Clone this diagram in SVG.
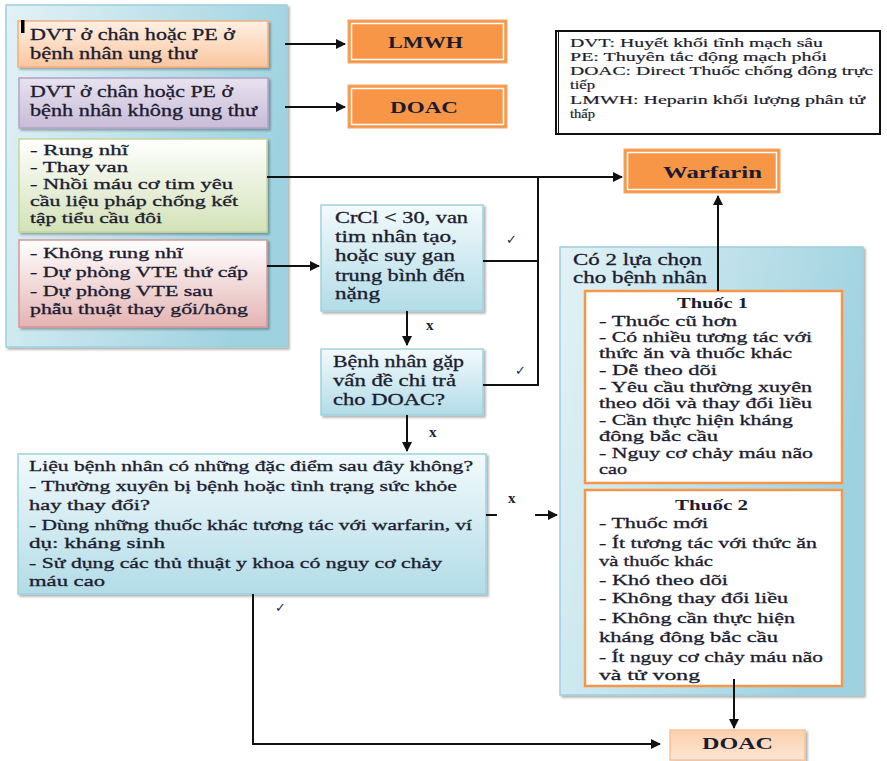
<svg xmlns="http://www.w3.org/2000/svg" width="887" height="761" viewBox="0 0 887 761">
  <style>
    .t { font-family: "Liberation Serif", "DejaVu Serif", serif; font-size: 16.5px; fill: #1c1c30; stroke: #1c1c30; stroke-width: 0.3; }
    .m { font-size: 15px; }
    .s { font-size: 15px; }
    .lg { font-size: 13px; stroke-width: 0.2; }
    .b { font-family: "Liberation Serif", "DejaVu Serif", serif; font-size: 17px; font-weight: bold; fill: #1c1c30; }
    .bs { font-size: 15px; }
    .mk { font-family: "DejaVu Sans", sans-serif; font-size: 13px; font-weight: bold; fill: #2a2a50; }
    .x { font-family: "Liberation Serif", serif; font-size: 15px; font-weight: bold; fill: #1c1c30; }
    .ln { fill: none; stroke: #111; stroke-width: 2; }
    .orange { fill: #F79646; stroke: #F9A66A; stroke-width: 1; }
    .inner { fill: none; stroke: #FFFFFF; stroke-width: 1.5; }
  </style>
  <defs>
    <linearGradient id="gPanel" x1="0" y1="0" x2="1" y2="0.3">
      <stop offset="0" stop-color="#E2F2F6"/>
      <stop offset="1" stop-color="#9FD2E0"/>
    </linearGradient>
    <linearGradient id="gPeach" x1="0" y1="0" x2="0" y2="1">
      <stop offset="0" stop-color="#FEF0E4"/>
      <stop offset="1" stop-color="#FAC79F"/>
    </linearGradient>
    <linearGradient id="gLav" x1="0" y1="0" x2="0" y2="1">
      <stop offset="0" stop-color="#E8E2EF"/>
      <stop offset="1" stop-color="#C8BCD8"/>
    </linearGradient>
    <linearGradient id="gGreen" x1="0" y1="0" x2="0" y2="1">
      <stop offset="0" stop-color="#FFFFFF"/>
      <stop offset="1" stop-color="#D3E2B8"/>
    </linearGradient>
    <linearGradient id="gPink" x1="0" y1="0" x2="0" y2="1">
      <stop offset="0" stop-color="#FFFFFF"/>
      <stop offset="1" stop-color="#E4B4B3"/>
    </linearGradient>
    <linearGradient id="gBlue" x1="0" y1="0" x2="0" y2="1">
      <stop offset="0" stop-color="#F2FAFC"/>
      <stop offset="1" stop-color="#B2DCE7"/>
    </linearGradient>
    <linearGradient id="gLight" x1="0" y1="0" x2="0" y2="1">
      <stop offset="0" stop-color="#FBD0AC"/>
      <stop offset="1" stop-color="#FDE6D4"/>
    </linearGradient>
    <filter id="sh" x="-5%" y="-5%" width="115%" height="115%">
      <feDropShadow dx="2" dy="2" stdDeviation="1.2" flood-color="#000" flood-opacity="0.3"/>
    </filter>
    <marker id="ah" viewBox="0 0 10 10" refX="9" refY="5" markerWidth="5" markerHeight="5" orient="auto" markerUnits="strokeWidth">
      <path d="M0,0 L10,5 L0,10 z" fill="#111"/>
    </marker>
  </defs>

  <rect width="887" height="761" fill="#FFFFFF"/>

  <!-- left indications panel -->
  <g id="panel-left">
    <rect x="6" y="5" width="281" height="342" fill="url(#gPanel)" stroke="#9CCFDD" stroke-width="1.5" filter="url(#sh)"/>
  </g>

  <g id="cancer">
    <rect x="18" y="21" width="250" height="46" fill="url(#gPeach)" stroke="#F2AE7C" stroke-width="1.5" filter="url(#sh)"/>
    <rect x="21" y="20" width="3.5" height="13" fill="#000"/>
    <text class="t" x="30" y="40" textLength="205" lengthAdjust="spacingAndGlyphs">DVT ở chân hoặc PE ở</text>
    <text class="t" x="30" y="59" textLength="167" lengthAdjust="spacingAndGlyphs">bệnh nhân ung thư</text>
  </g>

  <g id="no-cancer">
    <rect x="19" y="78" width="249" height="50" fill="url(#gLav)" stroke="#B3A2C7" stroke-width="1.5" filter="url(#sh)"/>
    <text class="t" x="30" y="97" textLength="203" lengthAdjust="spacingAndGlyphs">DVT ở chân hoặc PE ở</text>
    <text class="t" x="30" y="116" textLength="227" lengthAdjust="spacingAndGlyphs">bệnh nhân không ung thư</text>
  </g>

  <g id="af-valve">
    <rect x="19" y="139" width="248" height="93" fill="url(#gGreen)" stroke="#C3D69B" stroke-width="1.5" filter="url(#sh)"/>
    <text class="t m" x="30" y="155" textLength="98" lengthAdjust="spacingAndGlyphs">- Rung nhĩ</text>
    <text class="t m" x="30" y="172" textLength="98" lengthAdjust="spacingAndGlyphs">- Thay van</text>
    <text class="t m" x="30" y="189" textLength="203" lengthAdjust="spacingAndGlyphs">- Nhồi máu cơ tim yêu</text>
    <text class="t m" x="30" y="206" textLength="208" lengthAdjust="spacingAndGlyphs">cầu liệu pháp chống kết</text>
    <text class="t m" x="30" y="223" textLength="132" lengthAdjust="spacingAndGlyphs">tập tiểu cầu đôi</text>
  </g>

  <g id="no-af">
    <rect x="19" y="240" width="248" height="87" fill="url(#gPink)" stroke="#D99694" stroke-width="1.5" filter="url(#sh)"/>
    <text class="t m" x="30" y="258" textLength="153" lengthAdjust="spacingAndGlyphs">- Không rung nhĩ</text>
    <text class="t m" x="30" y="277" textLength="218" lengthAdjust="spacingAndGlyphs">- Dự phòng VTE thứ cấp</text>
    <text class="t m" x="30" y="296" textLength="183" lengthAdjust="spacingAndGlyphs">- Dự phòng VTE sau</text>
    <text class="t m" x="30" y="314" textLength="218" lengthAdjust="spacingAndGlyphs">phẫu thuật thay gối/hông</text>
  </g>

  <!-- drug result boxes -->
  <g id="lmwh">
    <rect class="orange" x="348" y="20" width="159" height="43"/>
    <rect class="inner" x="351.5" y="23.5" width="152" height="36"/>
    <text class="b" x="388" y="48" textLength="75" lengthAdjust="spacingAndGlyphs">LMWH</text>
  </g>

  <g id="doac-top">
    <rect class="orange" x="348" y="85" width="159" height="43"/>
    <rect class="inner" x="351.5" y="88.5" width="152" height="36"/>
    <text class="b" x="390" y="113" textLength="68" lengthAdjust="spacingAndGlyphs">DOAC</text>
  </g>

  <g id="warfarin">
    <rect class="orange" x="624" y="149" width="156" height="44"/>
    <rect class="inner" x="627.5" y="152.5" width="149" height="37"/>
    <text class="b" x="663" y="178" textLength="99" lengthAdjust="spacingAndGlyphs">Warfarin</text>
  </g>

  <g id="doac-bottom">
    <rect x="670" y="730" width="135" height="30" fill="url(#gLight)" stroke="#F8C49A" stroke-width="1.5" filter="url(#sh)"/>
    <text class="b" x="702" y="749" textLength="71" lengthAdjust="spacingAndGlyphs">DOAC</text>
  </g>

  <!-- abbreviations -->
  <g id="legend">
    <rect x="556" y="31" width="324" height="103" fill="#FFFFFF" stroke="#111" stroke-width="2"/>
    <line x1="558.5" y1="31" x2="558.5" y2="134" stroke="#111" stroke-width="1"/>
    <text class="t lg" x="570" y="47" textLength="253" lengthAdjust="spacingAndGlyphs">DVT: Huyết khối tĩnh mạch sâu</text>
    <text class="t lg" x="570" y="61" textLength="257" lengthAdjust="spacingAndGlyphs">PE: Thuyên tắc động mạch phổi</text>
    <text class="t lg" x="570" y="75" textLength="303" lengthAdjust="spacingAndGlyphs">DOAC: Direct Thuốc chống đông trực</text>
    <text class="t lg" x="570" y="89" textLength="25" lengthAdjust="spacingAndGlyphs">tiếp</text>
    <text class="t lg" x="570" y="104" textLength="295" lengthAdjust="spacingAndGlyphs">LMWH: Heparin khối lượng phân tử</text>
    <text class="t lg" x="570" y="118" textLength="25" lengthAdjust="spacingAndGlyphs">thấp</text>
  </g>

  <!-- decision boxes -->
  <g id="crcl">
    <rect x="321" y="205" width="162" height="106" fill="url(#gBlue)" stroke="#9FD1DE" stroke-width="1.5" filter="url(#sh)"/>
    <text class="t" x="335" y="223" textLength="133" lengthAdjust="spacingAndGlyphs">CrCl &lt; 30, van</text>
    <text class="t" x="335" y="242" textLength="122" lengthAdjust="spacingAndGlyphs">tim nhân tạo,</text>
    <text class="t" x="335" y="261" textLength="120" lengthAdjust="spacingAndGlyphs">hoặc suy gan</text>
    <text class="t" x="335" y="281" textLength="130" lengthAdjust="spacingAndGlyphs">trung bình đến</text>
    <text class="t" x="335" y="299" textLength="45" lengthAdjust="spacingAndGlyphs">nặng</text>
  </g>

  <g id="cost">
    <rect x="321" y="349" width="162" height="66" fill="url(#gBlue)" stroke="#9FD1DE" stroke-width="1.5" filter="url(#sh)"/>
    <text class="t" x="333" y="367" textLength="131" lengthAdjust="spacingAndGlyphs">Bệnh nhân gặp</text>
    <text class="t" x="333" y="386" textLength="123" lengthAdjust="spacingAndGlyphs">vấn đề chi trả</text>
    <text class="t" x="333" y="405" textLength="112" lengthAdjust="spacingAndGlyphs">cho DOAC?</text>
  </g>

  <g id="risk">
    <rect x="18" y="454" width="468" height="140" fill="url(#gBlue)" stroke="#9FD1DE" stroke-width="1.5" filter="url(#sh)"/>
    <text class="t s" x="29" y="471" textLength="444" lengthAdjust="spacingAndGlyphs">Liệu bệnh nhân có những đặc điểm sau đây không?</text>
    <text class="t s" x="29" y="491" textLength="428" lengthAdjust="spacingAndGlyphs">- Thường xuyên bị bệnh hoặc tình trạng sức khỏe</text>
    <text class="t s" x="29" y="510" textLength="121" lengthAdjust="spacingAndGlyphs">hay thay đổi?</text>
    <text class="t s" x="29" y="530" textLength="443" lengthAdjust="spacingAndGlyphs">- Dùng những thuốc khác tương tác với warfarin, ví</text>
    <text class="t s" x="29" y="548" textLength="136" lengthAdjust="spacingAndGlyphs">dụ: kháng sinh</text>
    <text class="t s" x="29" y="568" textLength="413" lengthAdjust="spacingAndGlyphs">- Sử dụng các thủ thuật y khoa có nguy cơ chảy</text>
    <text class="t s" x="29" y="586" textLength="76" lengthAdjust="spacingAndGlyphs">máu cao</text>
  </g>

  <!-- two options -->
  <g id="options">
    <rect x="560" y="247" width="303" height="448" fill="url(#gPanel)" stroke="#9CCFDD" stroke-width="1.5" filter="url(#sh)"/>
    <text class="t" x="573" y="265" textLength="129" lengthAdjust="spacingAndGlyphs">Có 2 lựa chọn</text>
    <text class="t" x="573" y="283" textLength="134" lengthAdjust="spacingAndGlyphs">cho bệnh nhân</text>
  </g>

  <g id="drug1">
    <rect x="585" y="291" width="257" height="192" fill="#FFFFFF" stroke="#F79646" stroke-width="2.5"/>
    <text class="b bs" x="677" y="308" textLength="71" lengthAdjust="spacingAndGlyphs">Thuốc 1</text>
    <text class="t s" x="599" y="326" textLength="138" lengthAdjust="spacingAndGlyphs">- Thuốc cũ hơn</text>
    <text class="t s" x="599" y="342" textLength="213" lengthAdjust="spacingAndGlyphs">- Có nhiều tương tác với</text>
    <text class="t s" x="599" y="358" textLength="193" lengthAdjust="spacingAndGlyphs">thức ăn và thuốc khác</text>
    <text class="t s" x="599" y="375" textLength="118" lengthAdjust="spacingAndGlyphs">- Dễ theo dõi</text>
    <text class="t s" x="599" y="392" textLength="213" lengthAdjust="spacingAndGlyphs">- Yêu cầu thường xuyên</text>
    <text class="t s" x="599" y="408" textLength="213" lengthAdjust="spacingAndGlyphs">theo dõi và thay đổi liều</text>
    <text class="t s" x="599" y="425" textLength="194" lengthAdjust="spacingAndGlyphs">- Cần thực hiện kháng</text>
    <text class="t s" x="599" y="441" textLength="119" lengthAdjust="spacingAndGlyphs">đông bắc cầu</text>
    <text class="t s" x="599" y="458" textLength="214" lengthAdjust="spacingAndGlyphs">- Nguy cơ chảy máu não</text>
    <text class="t s" x="599" y="474" textLength="28" lengthAdjust="spacingAndGlyphs">cao</text>
  </g>

  <g id="drug2">
    <rect x="585" y="490" width="257" height="196" fill="#FFFFFF" stroke="#F79646" stroke-width="2.5"/>
    <text class="b bs" x="675" y="510" textLength="73" lengthAdjust="spacingAndGlyphs">Thuốc 2</text>
    <text class="t s" x="599" y="528" textLength="109" lengthAdjust="spacingAndGlyphs">- Thuốc mới</text>
    <text class="t s" x="599" y="548" textLength="218" lengthAdjust="spacingAndGlyphs">- Ít tương tác với thức ăn</text>
    <text class="t s" x="599" y="566" textLength="114" lengthAdjust="spacingAndGlyphs">và thuốc khác</text>
    <text class="t s" x="599" y="585" textLength="129" lengthAdjust="spacingAndGlyphs">- Khó theo dõi</text>
    <text class="t s" x="599" y="603" textLength="189" lengthAdjust="spacingAndGlyphs">- Không thay đổi liều</text>
    <text class="t s" x="599" y="623" textLength="196" lengthAdjust="spacingAndGlyphs">- Không cần thực hiện</text>
    <text class="t s" x="599" y="642" textLength="179" lengthAdjust="spacingAndGlyphs">kháng đông bắc cầu</text>
    <text class="t s" x="599" y="662" textLength="224" lengthAdjust="spacingAndGlyphs">- Ít nguy cơ chảy máu não</text>
    <text class="t s" x="599" y="680" textLength="101" lengthAdjust="spacingAndGlyphs">và tử vong</text>
  </g>

  <!-- connectors -->
  <g id="connectors">
    <line class="ln" x1="285" y1="44" x2="345" y2="44" marker-end="url(#ah)"/>
    <line class="ln" x1="285" y1="107" x2="345" y2="107" marker-end="url(#ah)"/>
    <line class="ln" x1="267" y1="177" x2="622" y2="177" marker-end="url(#ah)"/>
    <polyline class="ln" points="483,261 538,261"/>
    <polyline class="ln" points="538,177 538,385 483,385"/>
    <line class="ln" x1="267" y1="266" x2="319" y2="266" marker-end="url(#ah)"/>
    <line class="ln" x1="407" y1="311" x2="407" y2="345" marker-end="url(#ah)"/>
    <line class="ln" x1="407" y1="415" x2="407" y2="451" marker-end="url(#ah)"/>
    <line class="ln" x1="486" y1="515" x2="497" y2="515"/>
    <line class="ln" x1="535" y1="515" x2="557" y2="515" marker-end="url(#ah)"/>
    <line class="ln" x1="718" y1="291" x2="718" y2="196" marker-end="url(#ah)"/>
    <line class="ln" x1="734" y1="679" x2="734" y2="728" marker-end="url(#ah)"/>
    <polyline class="ln" points="253,594 253,744 660,744" marker-end="url(#ah)"/>

    <text class="x" x="426" y="330">x</text>
    <text class="x" x="429" y="437">x</text>
    <text class="x" x="508" y="503">x</text>
    <text class="mk" x="506" y="244">✓</text>
    <text class="mk" x="515" y="375">✓</text>
    <text class="mk" x="275" y="612">✓</text>
  </g>
</svg>
